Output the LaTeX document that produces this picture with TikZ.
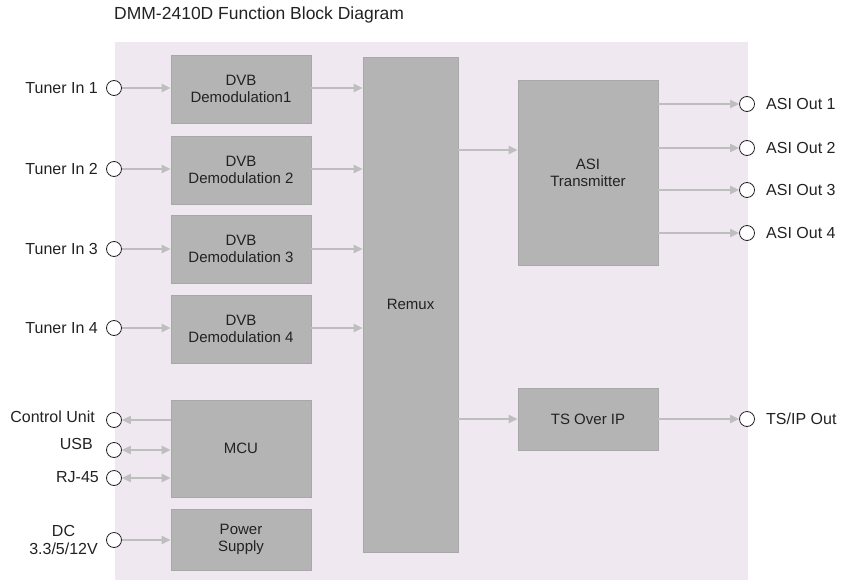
\documentclass[tikz,border=0pt]{standalone}
\usepackage{fontspec}
\setmainfont{Liberation Sans}
\usetikzlibrary{arrows.meta}
\definecolor{bgpink}{HTML}{EFE8F0}
\definecolor{boxgray}{HTML}{B4B4B4}
\definecolor{boxedge}{HTML}{A8A8A8}
\definecolor{arrgray}{HTML}{BEBEBE}
\definecolor{txt}{HTML}{222222}
\tikzset{
  blk/.style={draw=boxedge, line width=0.6pt, fill=boxgray, text=txt, align=center, font=\fontsize{15}{17}\selectfont},
  port/.style={circle, draw=txt, fill=white, line width=0.8pt, minimum size=15pt, inner sep=0pt},
  lbl/.style={text=txt, font=\fontsize{16}{18}\selectfont, inner sep=0pt, align=center},
  conn/.style={draw=arrgray, line width=2pt, -{Triangle[length=9pt,width=8pt]}},
  bconn/.style={draw=arrgray, line width=2pt, {Triangle[length=9pt,width=8pt]}-{Triangle[length=9pt,width=8pt]}}
}
\begin{document}
\begin{tikzpicture}[x=1pt,y=-1pt]
\useasboundingbox (0,0) rectangle (842,583);
\fill[bgpink] (115,42) rectangle (748,580);
\node[lbl, anchor=west, font=\fontsize{17.5}{20}\selectfont] (title) at (114,15) {DMM-2410D Function Block Diagram};
% boxes
\node[blk, minimum width=140pt, minimum height=68pt] (d1) at (241,89) {DVB\\Demodulation1};
\node[blk, minimum width=140pt, minimum height=68pt] (d2) at (241,170) {DVB\\Demodulation 2};
\node[blk, minimum width=140pt, minimum height=68pt] (d3) at (241,249) {DVB\\Demodulation 3};
\node[blk, minimum width=140pt, minimum height=68pt] (d4) at (241,329) {DVB\\Demodulation 4};
\node[blk, minimum width=140pt, minimum height=97pt] (mcu) at (241,448.5) {MCU};
\node[blk, minimum width=140pt, minimum height=61pt] (ps) at (241,539.5) {Power\\Supply};
\node[blk, minimum width=95pt, minimum height=495pt] (remux) at (410.5,304.5) {Remux};
\node[blk, minimum width=140pt, minimum height=185pt] (asi) at (588,172.5) {ASI\\Transmitter};
\node[blk, minimum width=140pt, minimum height=62pt] (ip) at (588,419) {TS Over IP};
% left ports
\node[port] (t1) at (114,88) {};
\node[port] (t2) at (114,169) {};
\node[port] (t3) at (114,249) {};
\node[port] (t4) at (114,328) {};
\node[port] (cu) at (114,420) {};
\node[port] (usb) at (114,450) {};
\node[port] (rj) at (114,478) {};
\node[port] (dc) at (114,540) {};
\node[lbl, anchor=east] (lt1) at (98,88) {Tuner In 1};
\node[lbl, anchor=east] (lt2) at (98,169) {Tuner In 2};
\node[lbl, anchor=east] (lt3) at (98,249) {Tuner In 3};
\node[lbl, anchor=east] (lt4) at (98,328) {Tuner In 4};
\node[lbl, anchor=east] (lcu) at (95,417) {Control Unit};
\node[lbl, anchor=east] (lusb) at (93,444) {USB};
\node[lbl, anchor=east] (lrj) at (99,477) {RJ-45};
\node[lbl, anchor=east] (ldc) at (98,540) {DC\\3.3/5/12V};
% right ports
\node[port] (a1) at (747,104) {};
\node[port] (a2) at (747,148) {};
\node[port] (a3) at (747,190) {};
\node[port] (a4) at (747,233) {};
\node[port] (tip) at (747,419) {};
\node[lbl, anchor=west] (la1) at (766,104) {ASI Out 1};
\node[lbl, anchor=west] (la2) at (766,148) {ASI Out 2};
\node[lbl, anchor=west] (la3) at (766,190) {ASI Out 3};
\node[lbl, anchor=west] (la4) at (766,233) {ASI Out 4};
\node[lbl, anchor=west] (ltip) at (766,419) {TS/IP Out};
% connectors
\draw[conn] (t1) -- (d1.west |- t1);
\draw[conn] (t2) -- (d2.west |- t2);
\draw[conn] (t3) -- (d3.west |- t3);
\draw[conn] (t4) -- (d4.west |- t4);
\draw[conn] (dc) -- (ps.west |- dc);
\draw[conn] (mcu.west |- cu) -- (cu);
\draw[bconn] (usb) -- (mcu.west |- usb);
\draw[bconn] (rj) -- (mcu.west |- rj);
\draw[conn] (d1.east |- t1) -- (remux.west |- t1);
\draw[conn] (d2.east |- t2) -- (remux.west |- t2);
\draw[conn] (d3.east |- t3) -- (remux.west |- t3);
\draw[conn] (d4.east |- t4) -- (remux.west |- t4);
\coordinate (rx1) at (458,150);
\draw[conn] (remux.east |- rx1) -- (asi.west |- rx1);
\draw[conn] (remux.east |- tip) -- (ip.west |- tip);
\draw[conn] (asi.east |- a1) -- (a1);
\draw[conn] (asi.east |- a2) -- (a2);
\draw[conn] (asi.east |- a3) -- (a3);
\draw[conn] (asi.east |- a4) -- (a4);
\draw[conn] (ip) -- (tip);
\end{tikzpicture}
\end{document}
